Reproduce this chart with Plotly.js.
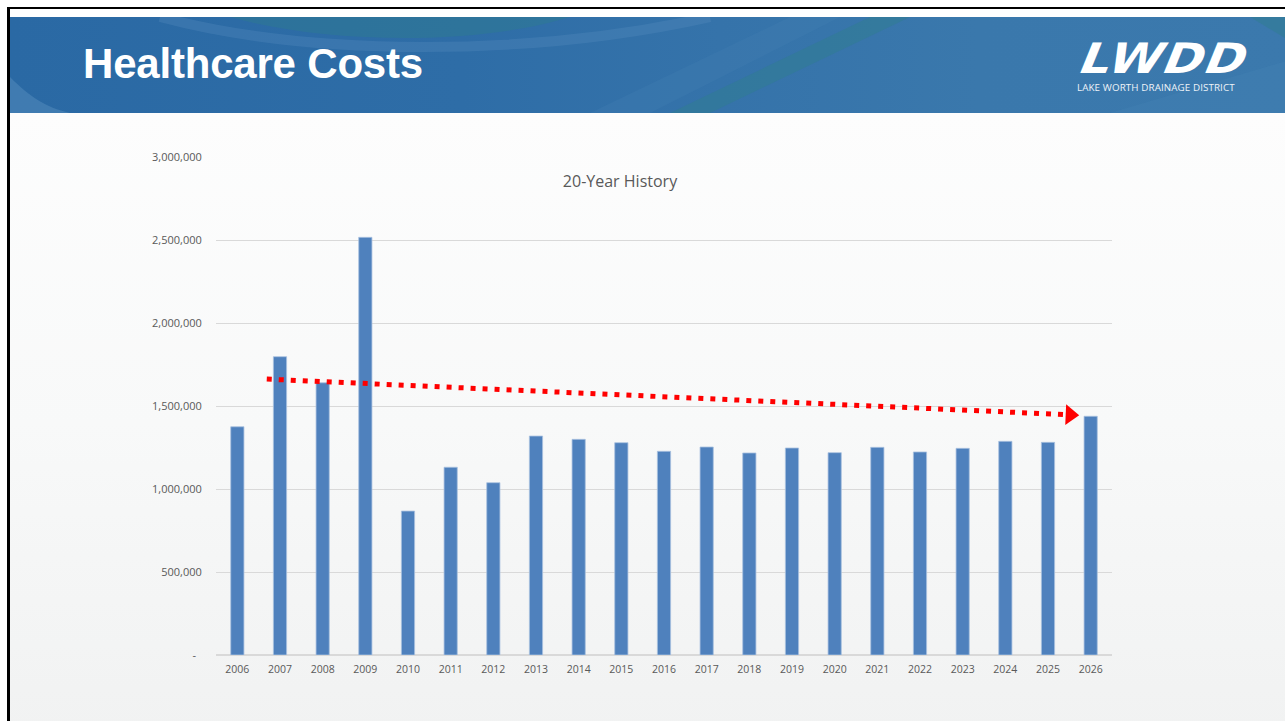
<!DOCTYPE html>
<html>
<head>
<meta charset="utf-8">
<script src="https://cdn.plot.ly/plotly-3.0.1.min.js"></script>
<style>
  html, body { margin: 0; padding: 0; background: #ffffff; }
  body { width: 1285px; height: 721px; position: relative; overflow: hidden; font-family: "Liberation Sans", Arial, sans-serif; }
  #frame { position: absolute; left: 7px; top: 7px; width: 1300px; height: 730px; border-left: 3px solid #000; border-top: 2px solid #000; background: #fff; }
  #body-bg { position: absolute; left: 10px; top: 113px; width: 1290px; height: 620px;
    background: linear-gradient(180deg, #fdfdfd 0%, #f8f9f9 50%, #f1f2f2 100%); }
  #header { position: absolute; left: 10px; top: 17px; width: 1290px; height: 96px; overflow: hidden;
    background: linear-gradient(90deg, #2a69a4 0%, #2e6da7 35%, #3573aa 55%, #3a78ac 75%, #3b79ad 100%); }
  #header svg { position: absolute; left: 0; top: 0; }
  #htitle { position: absolute; left: 73px; top: 23px; color: #fff; font-size: 42px; font-weight: bold; letter-spacing: -0.2px; }
  #logo { position: absolute; left: 1063px; top: 21px; color: #fff; font-family: "DejaVu Sans", sans-serif; font-weight: bold;
    font-size: 42px; line-height: 1; transform: skewX(-22deg) scaleX(1.16); transform-origin: left bottom; letter-spacing: 1px; }
  #logosub { position: absolute; left: 1067px; top: 64px; color: #eef3f8; font-family: "Open Sans", sans-serif; font-size: 9.8px; letter-spacing: 0.1px; }
  #chart { position: absolute; left: 0; top: 0; width: 1285px; height: 721px; }
</style>
</head>
<body>
<div id="frame"></div>
<div id="body-bg"></div>
<div id="header">
  <svg width="1290" height="96">
    <path d="M220,0 C320,28 470,28 560,0 Z" fill="#2f7d8f" opacity="0.45"/>
    <path d="M150,0 C300,40 520,40 700,0" stroke="#5b8fbf" stroke-width="10" fill="none" opacity="0.3"/>
    <path d="M660,96 L700,96 L900,0 L860,0 Z" fill="#2f7d8f" opacity="0.5"/>
    <path d="M580,96 L640,96 L830,0 L780,0 Z" fill="#4a86b8" opacity="0.22"/>
    <path d="M0,60 C20,80 35,90 60,96 L0,96 Z" fill="#5a92c0" opacity="0.45"/>
    <path d="M1100,96 L1290,40 L1290,96 Z" fill="#4583b6" opacity="0.3"/>
    <path d="M1240,0 L1290,0 L1290,30 Z" fill="#2f7d8f" opacity="0.5"/>
  </svg>
  <div id="htitle">Healthcare Costs</div>
  <div id="logo">LWDD</div>
  <div id="logosub">LAKE WORTH DRAINAGE DISTRICT</div>
</div>
<div id="chart"></div>
<script>
// 20-year healthcare cost history
const years = [2006, 2007, 2008, 2009, 2010, 2011, 2012, 2013, 2014, 2015, 2016,
               2017, 2018, 2019, 2020, 2021, 2022, 2023, 2024, 2025, 2026];
const costs = [1375000, 1797000, 1640000, 2516000, 867000, 1131000, 1038000, 1319000, 1299000, 1279000, 1227000,
               1253000, 1217000, 1247000, 1219000, 1251000, 1223000, 1245000, 1287000, 1281000, 1438000];

// hand-drawn trend arrow (start, end)
const trendX = [2006.69, 2025.52];
const trendY = [1662000, 1447000];

const yTickVals = [0, 500000, 1000000, 1500000, 2000000, 2500000, 3000000];
const yTickText = ['-\u00a0\u00a0', '500,000', '1,000,000', '1,500,000', '2,000,000', '2,500,000', '3,000,000'];

const bars = {
    x: years,
    y: costs,
    type: 'bar',
    width: 0.31,
    marker: { color: '#4f81bd', line: { color: '#a9c2e0', width: 0.8 } },
    hoverinfo: 'x+y'
};

const trendLine = {
    x: trendX,
    y: trendY,
    type: 'scatter',
    mode: 'lines',
    line: { color: '#ff0000', width: 5, dash: '5px,7px' },
    hoverinfo: 'skip'
};

const arrowHead = {
    x: [trendX[1]],
    y: [trendY[1]],
    type: 'scatter',
    mode: 'markers',
    marker: { symbol: 'triangle-right', size: 18, color: '#ff0000', angle: 2.5 },
    hoverinfo: 'skip'
};

const tickFont = { family: '"Open Sans", sans-serif', size: 11, color: '#595959' };

const layout = {
    width: 1285,
    height: 721,
    margin: { l: 216, r: 173, t: 157, b: 66 },
    paper_bgcolor: 'rgba(0,0,0,0)',
    plot_bgcolor: 'rgba(0,0,0,0)',
    showlegend: false,
    title: {
        text: '20-Year History',
        font: { family: '"Open Sans", sans-serif', size: 16, color: '#595959' },
        xref: 'container', x: 0.4825, xanchor: 'center',
        yref: 'container', y: 0.749, yanchor: 'middle'
    },
    xaxis: {
        range: [2005.5, 2026.5],
        tickvals: years,
        tickformat: 'd',
        showgrid: false,
        zeroline: false,
        showline: false,
        ticks: 'outside', ticklen: 4, tickcolor: 'rgba(0,0,0,0)',
        tickfont: { family: '"Open Sans", sans-serif', size: 10.5, color: '#595959' },
        fixedrange: true
    },
    yaxis: {
        range: [0, 3000000],
        tickvals: yTickVals,
        ticktext: yTickText,
        showgrid: true,
        gridcolor: '#d9d9d9',
        gridwidth: 1,
        zeroline: true,
        zerolinecolor: '#d9d9d9',
        zerolinewidth: 1.5,
        ticks: 'outside', ticklen: 11, tickcolor: 'rgba(0,0,0,0)',
        tickfont: tickFont,
        fixedrange: true
    }
};

Plotly.newPlot('chart', [bars, trendLine, arrowHead], layout, { displayModeBar: false, staticPlot: true });
</script>
</body>
</html>
